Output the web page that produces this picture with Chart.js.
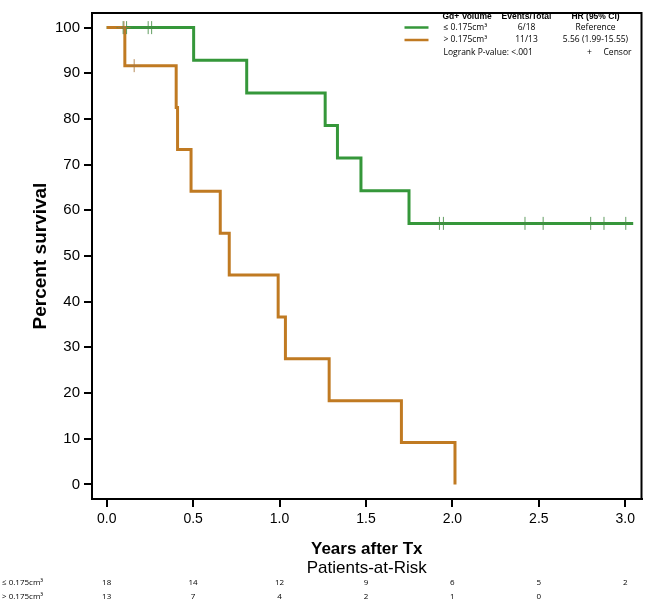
<!DOCTYPE html>
<html>
<head>
<meta charset="utf-8">
<script src="https://cdn.jsdelivr.net/npm/chart.js@4.4.1/dist/chart.umd.min.js"></script>
<style>
html,body{margin:0;padding:0;background:#fff;}
canvas{display:block;}
</style>
</head>
<body>
<canvas id="c" width="649" height="603"></canvas>
<script>
// ---- data ----
const xTickValues = [0, 0.5, 1.0, 1.5, 2.0, 2.5, 3.0];
const yTickValues = [0, 10, 20, 30, 40, 50, 60, 70, 80, 90, 100];

const groupLabels = ['\u2264 0.175cm\u00B3', '> 0.175cm\u00B3'];
const eventsTotal = ['6/18', '11/13'];
const hrText = ['Reference', '5.56 (1.99-15.55)'];

// group <= 0.175 (green)
const lowTimes = [0, 0.503, 0.81, 1.264, 1.335, 1.471, 1.749, 3.046];
const lowSurv  = [100, 92.86, 85.71, 78.57, 71.43, 64.29, 57.14, 57.14];
const lowCensorTimes = [0.095, 0.115, 0.24, 0.26, 1.925, 1.948, 2.42, 2.525, 2.8, 2.877, 3.003];
const lowCensorSurv  = [100, 100, 100, 100, 57.14, 57.14, 57.14, 57.14, 57.14, 57.14, 57.14];

// group > 0.175 (orange)
const highTimes = [0, 0.105, 0.402, 0.41, 0.488, 0.657, 0.709, 0.992, 1.034, 1.287, 1.705, 2.015];
const highSurv  = [100, 91.67, 82.5, 73.33, 64.17, 55.0, 45.83, 36.67, 27.5, 18.33, 9.17, 0];
const highCensorTimes = [0.1, 0.159];
const highCensorSurv  = [100, 91.67];

// patients at risk at each x tick
const riskLow  = [18, 14, 12, 9, 6, 5, 2];
const riskHigh = [13, 7, 4, 2, 1, 0];

// ---- styles ----
const GREEN = '#35973a';
const ORANGE = '#c07a22';
const GREEN_C = 'rgba(70,140,70,0.85)';
const ORANGE_C = 'rgba(170,120,60,0.85)';
const SANS = '"Liberation Sans", Arial, sans-serif';
const LEG = '"Open Sans", "Liberation Sans", sans-serif';

const pts = (xs, ys) => xs.map((x, i) => ({x: x, y: ys[i]}));

const overlay = {
  id: 'overlay',
  afterDraw(chart) {
    const ctx = chart.ctx;
    const a = chart.chartArea;
    const xs = chart.scales.x;
    ctx.save();
    // frame
    ctx.strokeStyle = '#000';
    ctx.lineWidth = 2;
    ctx.strokeRect(a.left, a.top, a.right - a.left, a.bottom - a.top);

    // legend
    const lx = a.right - 237;
    ctx.fillStyle = '#000';
    ctx.textBaseline = 'alphabetic';
    ctx.font = 'bold 8.5px ' + SANS;
    ctx.textAlign = 'left';
    ctx.fillText('Gd+ Volume', lx + 38, 19);
    ctx.textAlign = 'center';
    ctx.fillText('Events/Total', lx + 122, 19);
    ctx.fillText('HR (95% CI)', lx + 191, 19);
    ctx.font = '8.5px ' + LEG;
    const rowsY = [27.5, 40];
    const cols = [GREEN, ORANGE];
    ctx.textBaseline = 'middle';
    for (let i = 0; i < 2; i++) {
      ctx.strokeStyle = cols[i];
      ctx.lineWidth = 2.5;
      ctx.beginPath();
      ctx.moveTo(lx, rowsY[i]);
      ctx.lineTo(lx + 24, rowsY[i]);
      ctx.stroke();
      ctx.textAlign = 'left';
      ctx.fillText(groupLabels[i], lx + 39, rowsY[i]);
      ctx.textAlign = 'center';
      ctx.fillText(eventsTotal[i], lx + 122, rowsY[i]);
      ctx.fillText(hrText[i], lx + 191, rowsY[i]);
    }
    ctx.textAlign = 'left';
    ctx.fillText('Logrank P-value: <.001', lx + 39, 52.5);
    ctx.textAlign = 'center';
    ctx.fillText('+', lx + 185, 52.5);
    ctx.textAlign = 'left';
    ctx.fillText('Censor', lx + 199, 52.5);

    // patients at risk
    const cx = (a.left + a.right) / 2;
    ctx.font = '17px ' + SANS;
    ctx.textAlign = 'center';
    ctx.fillText('Patients-at-Risk', cx, 568);
    ctx.font = '8px ' + LEG;
    const ry = [583, 597];
    const risks = [riskLow, riskHigh];
    for (let r = 0; r < 2; r++) {
      ctx.textAlign = 'left';
      ctx.fillText(groupLabels[r], 2, ry[r]);
      ctx.textAlign = 'center';
      risks[r].forEach((v, i) => {
        ctx.fillText(String(v), xs.getPixelForValue(xTickValues[i]), ry[r]);
      });
    }
    ctx.restore();
  }
};

new Chart(document.getElementById('c'), {
  type: 'scatter',
  data: {
    datasets: [
      {
        label: 'high censor', data: pts(highCensorTimes, highCensorSurv),
        showLine: false, pointStyle: 'cross', pointRadius: 6.5, borderWidth: 1,
        borderColor: ORANGE_C, backgroundColor: ORANGE_C, order: 0
      },
      {
        label: 'low censor', data: pts(lowCensorTimes, lowCensorSurv),
        showLine: false, pointStyle: 'cross', pointRadius: 6.5, borderWidth: 1,
        borderColor: GREEN_C, backgroundColor: GREEN_C, order: 0
      },
      {
        label: groupLabels[1], data: pts(highTimes, highSurv),
        showLine: true, stepped: 'before', borderColor: ORANGE, borderWidth: 3,
        pointRadius: 0, fill: false, order: 1
      },
      {
        label: groupLabels[0], data: pts(lowTimes, lowSurv),
        showLine: true, stepped: 'before', borderColor: GREEN, borderWidth: 3,
        pointRadius: 0, fill: false, order: 2
      }
    ]
  },
  options: {
    responsive: false,
    animation: false,
    layout: {padding: {left: 0, right: 4, top: 4, bottom: 39}},
    plugins: {legend: {display: false}, tooltip: {enabled: false}},
    scales: {
      x: {
        type: 'linear', min: -0.085, max: 3.094,
        afterBuildTicks: s => { s.ticks = xTickValues.map(v => ({value: v})); },
        afterFit: s => { s.height = 65; },
        grid: {drawOnChartArea: false, drawTicks: true, tickLength: 8, lineWidth: 2, color: '#000'},
        border: {display: true, color: '#000', width: 2},
        ticks: {color: '#000', padding: 4, font: {family: SANS, size: 14}, maxRotation: 0,
          callback: v => Number(v).toFixed(1)},
        title: {display: true, text: 'Years after Tx', color: '#000',
          font: {family: SANS, size: 17, weight: 'bold'}, padding: {top: 0, bottom: 4}}
      },
      y: {
        type: 'linear', min: -3.2, max: 103.2,
        afterBuildTicks: s => { s.ticks = yTickValues.map(v => ({value: v})); },
        afterFit: s => { s.width = 92; },
        grid: {drawOnChartArea: false, drawTicks: true, tickLength: 8, lineWidth: 2, color: '#000'},
        border: {display: true, color: '#000', width: 2},
        ticks: {color: '#000', padding: 4, font: {family: SANS, size: 15}},
        title: {display: true, text: 'Percent survival', color: '#000',
          font: {family: SANS, size: 19, weight: 'bold'}, padding: {top: 29, bottom: 0}}
      }
    }
  },
  plugins: [overlay]
});
</script>
</body>
</html>
